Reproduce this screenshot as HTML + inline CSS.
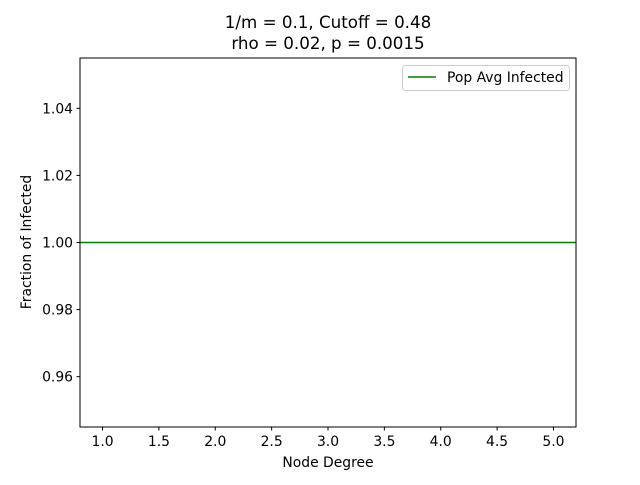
<!DOCTYPE html>
<html><head><meta charset="utf-8"><style>
body{margin:0;background:#fff}
text{font-family:"DejaVu Sans","Liberation Sans",sans-serif;fill:#000}
</style></head><body>
<svg id="chart" width="640" height="480" xmlns="http://www.w3.org/2000/svg">
<rect width="640" height="480" fill="#fff"/>
<text x="328" y="28" font-size="16.7" text-anchor="middle">1/m = 0.1, Cutoff = 0.48</text>
<text x="328" y="49" font-size="16.7" text-anchor="middle">rho = 0.02, p = 0.0015</text>
<g id="xt"></g>
<g id="yt"></g>
<g id="series"></g>
<rect x="80" y="58" width="496" height="369" fill="none" stroke="#000" stroke-width="1"/>
<text x="328" y="467" font-size="13.9" text-anchor="middle">Node Degree</text>
<text transform="translate(31,242) rotate(-90)" font-size="13.9" text-anchor="middle">Fraction of Infected</text>
<g>
<rect x="402.5" y="65.5" width="167" height="25" rx="3" fill="#fff" stroke="#ccc"/>
<line x1="408" y1="77" x2="436" y2="77" stroke="#008000" stroke-width="1.5"/>
<text x="447" y="82" font-size="13.9">Pop Avg Infected</text>
</g>
</svg>
<script>
const xTicks=[1.0,1.5,2.0,2.5,3.0,3.5,4.0,4.5,5.0];
const yTicks=[0.96,0.98,1.00,1.02,1.04];
const degrees=[1,2,3,4,5];
const infected=[1,1,1,1,1];
const X0=80,X1=576,Y0=427,Y1=58,xmin=0.8,xmax=5.2,ymin=0.945,ymax=1.055;
const sx=v=>X0+(v-xmin)/(xmax-xmin)*(X1-X0);
const sy=v=>Y0-(v-ymin)/(ymax-ymin)*(Y0-Y1);
const NS="http://www.w3.org/2000/svg";
const xt=document.getElementById('xt'),yt=document.getElementById('yt'),se=document.getElementById('series');
function mk(t,a){const e=document.createElementNS(NS,t);for(const k in a)e.setAttribute(k,a[k]);return e;}
xTicks.forEach(v=>{const x=sx(v);
const l=mk('line',{x1:x,x2:x,y1:427,y2:430.5,stroke:'#000'});


xt.appendChild(l);
const t=mk('text',{x:x,y:446,'font-size':13.9,'text-anchor':'middle'});t.textContent=v.toFixed(1);


xt.appendChild(t);});
yTicks.forEach(v=>{const y=sy(v);
const l=mk('line',{x1:76.5,x2:80,y1:y,y2:y,stroke:'#000'});


yt.appendChild(l);
const t=mk('text',{x:73,y:y+5,'font-size':13.9,'text-anchor':'end'});t.textContent=v.toFixed(2);


yt.appendChild(t);});
const pts=degrees.map((d,i)=>sx(d)+','+sy(infected[i]));
const first=sx(xmin)+','+sy(infected[0]), last=sx(xmax)+','+sy(infected[infected.length-1]);
const pl=mk('polyline',{points:[first].concat(pts,[last]).join(' '),fill:'none',stroke:'#008000','stroke-width':1.5});


se.appendChild(pl);
</script>
</body></html>
